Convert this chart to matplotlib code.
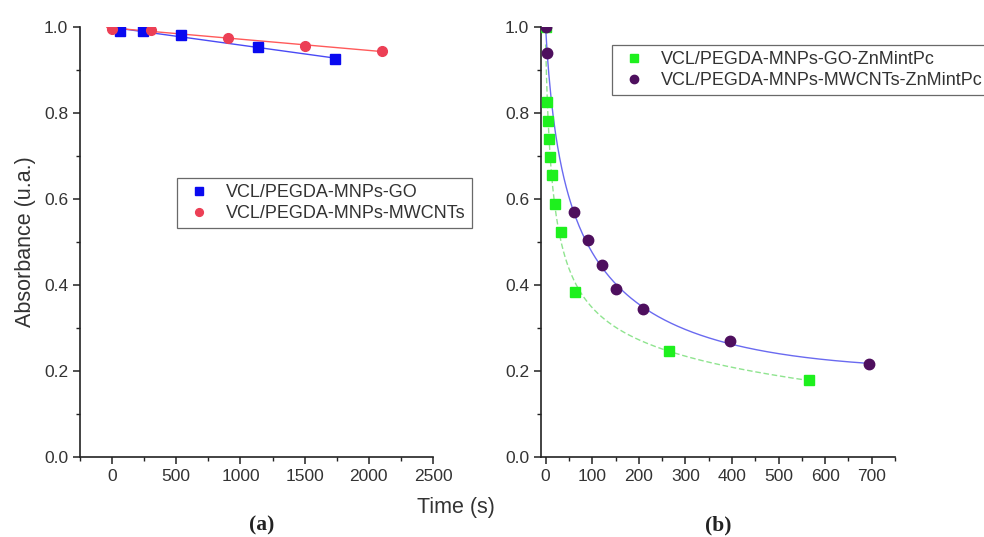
import numpy as np
import matplotlib
matplotlib.use("Agg")
import matplotlib.pyplot as plt
from matplotlib.ticker import MultipleLocator

plt.rcParams['font.family'] = ['Liberation Sans', 'DejaVu Sans']

# (a) without ZnMintPc
t_go = [60, 240, 540, 1140, 1740]
a_go = [0.991, 0.990, 0.981, 0.952, 0.925]
t_mw = [0, 300, 900, 1500, 2100]
a_mw = [0.995, 0.992, 0.974, 0.956, 0.943]

# (b) with ZnMintPc
t_go_zn = [0, 2, 5, 7, 10, 14, 20, 32, 64, 264, 566]
a_go_zn = [1.0, 0.824, 0.781, 0.739, 0.698, 0.655, 0.587, 0.523, 0.384, 0.246, 0.178]
t_mw_zn = [0, 3, 60, 90, 120, 150, 210, 395, 695]
a_mw_zn = [1.0, 0.940, 0.570, 0.503, 0.446, 0.389, 0.343, 0.270, 0.215]

lab_a = ['VCL/PEGDA-MNPs-GO', 'VCL/PEGDA-MNPs-MWCNTs']
lab_b = ['VCL/PEGDA-MNPs-GO-ZnMintPc', 'VCL/PEGDA-MNPs-MWCNTs-ZnMintPc']

txt = '#333333'

fig = plt.figure(figsize=(9.84, 5.37), dpi=100)
ax1 = fig.add_axes([80/984, 80.3/537, 353/984, 430/537])
ax2 = fig.add_axes([541/984, 80.3/537, 354/984, 430/537])


def style(ax):
    for s in ['top', 'right']:
        ax.spines[s].set_visible(False)
    for s in ['left', 'bottom']:
        ax.spines[s].set_linewidth(1.2)
        ax.spines[s].set_color('#222222')
    ax.tick_params(which='major', direction='out', length=5, width=1.1,
                   labelsize=12.5, colors='#222222', labelcolor=txt)
    ax.tick_params(which='minor', direction='out', length=3, width=1.0, colors='#222222')
    ax.set_ylim(0, 1.0)
    ax.yaxis.set_major_locator(MultipleLocator(0.2))
    ax.yaxis.set_minor_locator(MultipleLocator(0.1))
    ax.yaxis.set_major_formatter(matplotlib.ticker.FormatStrFormatter('%.1f'))


def make_legend(ax, x, y):
    leg = ax.legend(loc='upper left', bbox_to_anchor=(x/984, 1 - y/537),
                    bbox_transform=fig.transFigure, fontsize=13, frameon=True,
                    fancybox=False, edgecolor='#444444', handletextpad=0.6,
                    borderpad=0.35, labelspacing=0.2, markerscale=0.8,
                    handlelength=1.75, borderaxespad=0)
    leg.get_frame().set_linewidth(0.9)
    for t in leg.get_texts():
        t.set_color(txt)
    return leg


style(ax1)
style(ax2)

# panel (a): linear fits
for t, a, c, lc, m, lab in [(t_go, a_go, '#0a0af0', '#4a4af5', 's', lab_a[0]),
                            (t_mw, a_mw, '#ec3f55', '#ff5a5a', 'o', lab_a[1])]:
    p = np.polyfit(t, a, 1)
    xx = np.array([-40, max(t)])
    ax1.plot(xx, np.polyval(p, xx), color=lc, lw=1.0, zorder=2)
    ax1.plot(t, a, m, color=c, ms=7, mec=c, label=lab, zorder=3)

ax1.set_xlim(-250, 2500)
ax1.xaxis.set_major_locator(MultipleLocator(500))
ax1.xaxis.set_minor_locator(MultipleLocator(250))
ax1.set_ylabel('Absorbance (u.a.)', fontsize=15.5, color=txt, labelpad=6)
make_legend(ax1, 177, 178)

# panel (b): smooth fits through the data in log-time
for t, a, c, lc, m, lab, ls in [(t_go_zn, a_go_zn, '#1ef01e', '#8fe48f', 's', lab_b[0], (0, (4, 2))),
                                (t_mw_zn, a_mw_zn, '#4e0f5e', '#6a6af0', 'o', lab_b[1], '-')]:
    t = np.array(t, float)
    p = np.polyfit(np.log(t + 8), a, 3)
    xx = np.linspace(0, t.max(), 300)
    ax2.plot(xx, np.polyval(p, np.log(xx + 8)), color=lc, lw=1.0, ls=ls, zorder=2)
    ax2.plot(t, a, m, color=c, ms=7.5, mec=c, label=lab, zorder=3)

ax2.set_xlim(-10, 750)
ax2.xaxis.set_major_locator(MultipleLocator(100))
ax2.xaxis.set_minor_locator(MultipleLocator(50))
make_legend(ax2, 612, 45)

fig.text(456/984, 1 - 508/537, 'Time (s)', fontsize=15.5, color=txt,
         ha='center', va='center')
fig.text(262/984, 1 - 525/537, '(a)', fontsize=15.5, fontweight='bold',
         family=['Liberation Serif'], ha='center', va='center', color='#222222')
fig.text(718/984, 1 - 525/537, '(b)', fontsize=15.5, fontweight='bold',
         family=['Liberation Serif'], ha='center', va='center', color='#222222')

fig.savefig('out.png', dpi=100)
